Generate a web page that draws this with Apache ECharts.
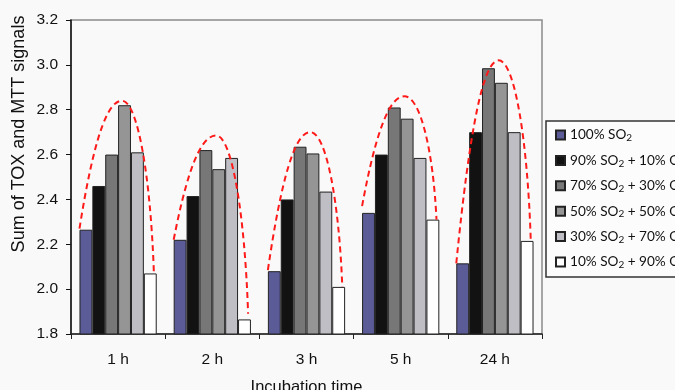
<!DOCTYPE html>
<html>
<head>
<meta charset="utf-8">
<script src="https://cdn.jsdelivr.net/npm/echarts@6/dist/echarts.min.js"></script>
<style>
  html, body { margin: 0; padding: 0; background: #f9f9f9; }
  #chart { width: 675px; height: 390px; }
</style>
</head>
<body>
<div id="chart"></div>
<script>
  // categories (incubation time)
  var categories = ['1 h', '2 h', '3 h', '5 h', '24 h']
  var seriesNames = ['100% SO2', '90% SO2 + 10% O2', '70% SO2 + 30% O2', '50% SO2 + 50% O2', '30% SO2 + 70% O2', '10% SO2 + 90% O2']
  var so100 = [2.265, 2.22, 2.08, 2.34, 2.115]
  var so90 = [2.46, 2.415, 2.40, 2.60, 2.70]
  var so70 = [2.60, 2.62, 2.635, 2.81, 2.985]
  var so50 = [2.82, 2.535, 2.605, 2.76, 2.92]
  var so30 = [2.61, 2.585, 2.435, 2.585, 2.70]
  var so10 = [2.07, 1.865, 2.01, 2.31, 2.215]
  // red dashed arcs over each group: start / top / end
  var curveStart = [2.27, 2.22, 2.085, 2.37, 2.115]
  var curvePeak = [2.84, 2.685, 2.70, 2.86, 3.02]
  var curveEnd = [2.07, 1.89, 2.01, 2.31, 2.225]

  var barColors = ['#5b5b98', '#121212', '#777777', '#959595', '#bebec4', '#ffffff']
  var values = [so100, so90, so70, so50, so30, so10]

  var chart = echarts.init(document.getElementById('chart'))

  var barSeries = seriesNames.map(function (name, k) {
    return {
      name: name,
      type: 'bar',
      data: values[k],
      barGap: 0,
      barCategoryGap: '18%',
      itemStyle: { color: barColors[k], borderColor: '#222', borderWidth: 1 }
    }
  })

  var curveData = categories.map(function (c, i) {
    return [i, curveStart[i], curvePeak[i], curveEnd[i]]
  })

  var option = {
    backgroundColor: '#f9f9f9',
    animation: false,
    grid: {
      left: 71, right: 133, top: 20, bottom: 56,
      outerBoundsMode: 'none',
      show: true, borderColor: '#8a8a8a', borderWidth: 1.5, backgroundColor: 'transparent'
    },
    legend: {
      data: seriesNames,
      orient: 'vertical',
      left: 546,
      top: 121,
      padding: [6, 40, 7, 9],
      icon: 'rect',
      itemWidth: 9,
      itemHeight: 9,
      itemGap: 9.4,
      borderColor: '#333',
      borderWidth: 1.5,
      backgroundColor: '#fcfcfc',
      textStyle: {
        fontFamily: 'Lato',
        fontSize: 13.6,
        color: '#111',
        lineHeight: 16,
        rich: {
          s: { fontFamily: 'Lato', fontSize: 10, lineHeight: 8, verticalAlign: 'bottom', color: '#111' }
        }
      },
      formatter: function (name) {
        return name.replace(/O2/g, 'O{s|2}')
      }
    },
    graphic: [{
      type: 'text',
      x: 19.5,
      y: 134,
      rotation: Math.PI / 2,
      style: {
        text: 'Sum of TOX and MTT signals',
        font: '18px "Liberation Sans"',
        fill: '#111',
        align: 'center',
        verticalAlign: 'middle'
      }
    }],
    xAxis: {
      type: 'category',
      data: categories,
      name: 'Incubation time',
      nameLocation: 'middle',
      nameGap: 45,
      nameTextStyle: { fontFamily: 'Liberation Sans', fontSize: 16.5, color: '#111', verticalAlign: 'top' },
      axisLine: { lineStyle: { color: '#222', width: 1.5 } },
      axisTick: { show: true, length: 5, lineStyle: { color: '#222' } },
      axisLabel: { margin: 18, fontFamily: 'Liberation Sans', fontSize: 15.5, color: '#111' }
    },
    yAxis: {
      type: 'value',
      min: 1.8,
      max: 3.2,
      interval: 0.2,
      splitLine: { show: false },
      axisLine: { show: true, lineStyle: { color: '#111', width: 1.5 } },
      axisTick: { show: true, length: 5, lineStyle: { color: '#111' } },
      axisLabel: {
        margin: 13,
        fontFamily: 'Liberation Sans',
        fontSize: 15.5,
        color: '#111',
        formatter: function (v) { return v.toFixed(1) }
      }
    },
    series: barSeries.concat([{
      type: 'custom',
      name: 'arc',
      data: curveData,
      encode: { x: 0, y: [1, 2, 3] },
      z: 5,
      renderItem: function (params, api) {
        var i = api.value(0)
        var bw = api.size([1, 0])[0]
        var c = api.coord([i, api.value(2)])
        var p0 = api.coord([i, api.value(1)])
        var p3 = api.coord([i, api.value(3)])
        var x0 = c[0] - 0.41 * bw, y0 = p0[1]
        var xp = c[0] + 0.04 * bw, yp = c[1]
        var x3 = c[0] + 0.38 * bw, y3 = p3[1]
        var dl = xp - x0, hl = y0 - yp, dr = x3 - xp, hr = y3 - yp
        var d = 'M' + x0 + ' ' + y0 +
          ' C' + (x0 + 0.32 * dl) + ' ' + (y0 - 0.67 * hl) + ' ' + (xp - 0.36 * dl) + ' ' + yp + ' ' + xp + ' ' + yp +
          ' C' + (xp + 0.5 * dr) + ' ' + yp + ' ' + (x3 - 0.1 * dr) + ' ' + (y3 - 0.55 * hr) + ' ' + x3 + ' ' + y3
        return {
          type: 'path',
          shape: { pathData: d },
          style: { fill: null, stroke: '#ff1a1a', lineWidth: 2, lineDash: [6, 4] }
        }
      }
    }])
  }

  chart.setOption(option)
</script>
</body>
</html>
